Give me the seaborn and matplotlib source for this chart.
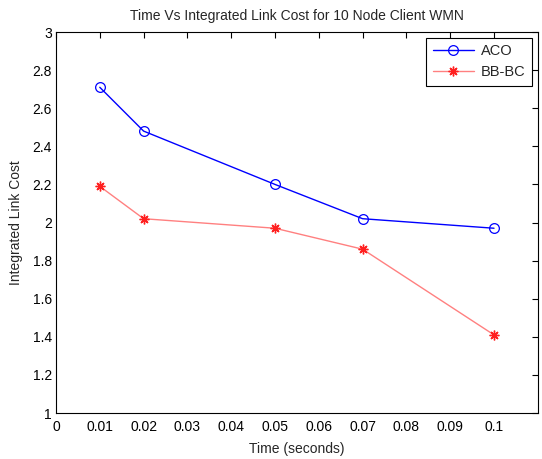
import numpy as np
import pandas as pd
import matplotlib
matplotlib.use("Agg")
import matplotlib.pyplot as plt
from matplotlib.ticker import FuncFormatter, MultipleLocator
import seaborn as sns

# Time steps (seconds) and integrated link cost for each algorithm
time_s = [0.01, 0.02, 0.05, 0.07, 0.1]
aco_cost = [2.71, 2.48, 2.20, 2.02, 1.97]
bbbc_cost = [2.19, 2.02, 1.97, 1.86, 1.41]

aco_df = pd.DataFrame({"time": time_s, "cost": aco_cost})
bbbc_df = pd.DataFrame({"time": time_s, "cost": bbbc_cost})

sns.set_style("white")
plt.rcParams["font.family"] = ["Liberation Sans", "DejaVu Sans"]

fig = plt.figure(figsize=(5.42, 4.59), dpi=100)
ax = fig.add_axes([0.1033, 0.1002, 0.889, 0.830])

sns.lineplot(data=aco_df, x="time", y="cost", ax=ax, color="#0000ff",
             linewidth=1.0, marker="o", markersize=7, markerfacecolor="none",
             markeredgecolor="#0000ff", markeredgewidth=0.9, label="ACO")
sns.lineplot(data=bbbc_df, x="time", y="cost", ax=ax, color="#ff8080",
             linewidth=1.0, marker=(8, 2, 0), markersize=7,
             markeredgecolor="#ff2020", markeredgewidth=1.0, label="BB-BC")

ax.set_xlim(0, 0.11)
ax.set_ylim(1, 3)
ax.yaxis.set_major_locator(MultipleLocator(0.2))
fmt = FuncFormatter(lambda v, p: "%g" % round(v, 4))
ax.xaxis.set_major_formatter(fmt)
ax.yaxis.set_major_formatter(fmt)
ax.set_xticks([0, 0.01, 0.02, 0.03, 0.04, 0.05, 0.06, 0.07, 0.08, 0.09, 0.1])

ax.tick_params(direction="in", length=4, width=0.8, top=True, right=True,
               labelsize=10, colors="black")
ax.tick_params(axis="x", pad=5)
ax.tick_params(axis="y", pad=3)
for sp in ax.spines.values():
    sp.set_color("black")
    sp.set_linewidth(0.8)

ax.set_title("Time Vs Integrated Link Cost for 10 Node Client WMN",
             fontsize=10, pad=9)
ax.set_xlabel("Time (seconds)", fontsize=10, labelpad=6)
ax.set_ylabel("Integrated Link Cost", fontsize=10, labelpad=7)

leg = ax.legend(loc="upper right", fontsize=10.5, frameon=True, fancybox=False,
                edgecolor="black", framealpha=1, borderaxespad=0.4,
                handlelength=2.8, handletextpad=0.5, borderpad=0.45,
                labelspacing=0.45)
leg.get_frame().set_linewidth(0.8)

fig.savefig("out.png", dpi=100)
